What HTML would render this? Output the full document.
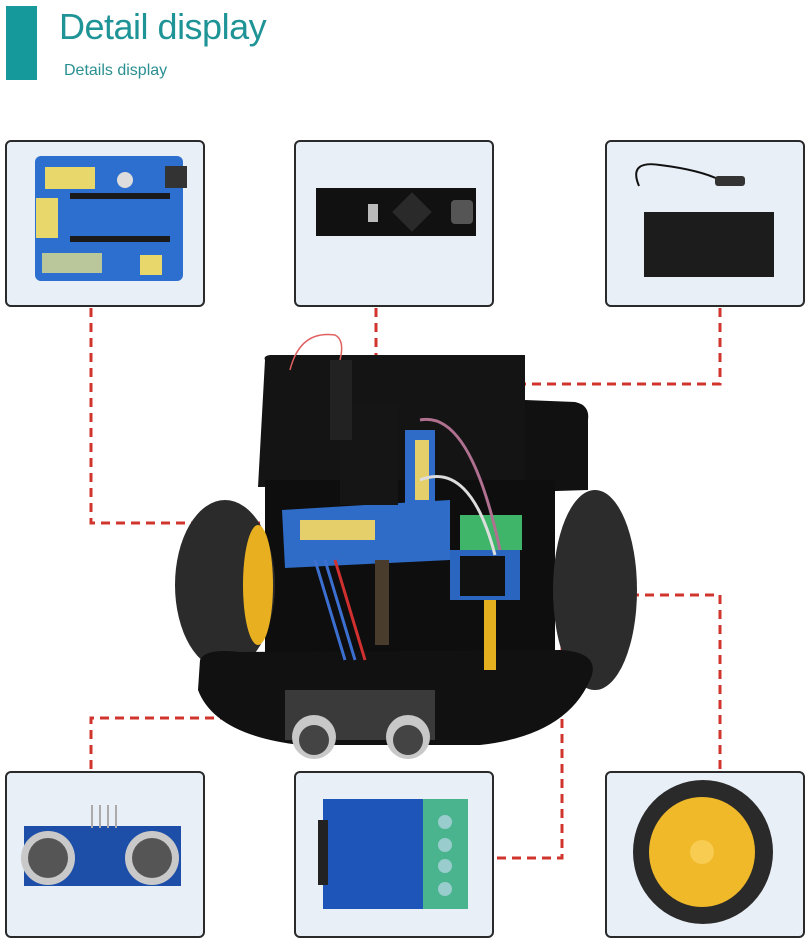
<!DOCTYPE html>
<html><head><meta charset="utf-8"><style>
html,body{margin:0;padding:0;background:#fff;}
body{width:808px;height:944px;position:relative;overflow:hidden;font-family:"Liberation Sans",sans-serif;}
.bar{position:absolute;left:6px;top:6px;width:31px;height:74px;background:#16999a;}
.t1{position:absolute;left:59px;top:6px;font-size:36px;color:#1f9496;letter-spacing:-0.5px;}
.t2{position:absolute;left:64px;top:62px;font-size:16px;color:#2a8f90;}
.box{position:absolute;width:196px;height:163px;border:2px solid #2a2a2a;border-radius:6px;background:#e9eff7;box-sizing:content-box;}
svg{position:absolute;left:0;top:0;}
</style></head><body>
<div class="bar"></div>
<div class="t1">Detail display</div>
<div class="t2">Details display</div>
<div class="box" style="left:5px;top:140px"></div>
<div class="box" style="left:294px;top:140px"></div>
<div class="box" style="left:605px;top:140px"></div>
<div class="box" style="left:5px;top:771px"></div>
<div class="box" style="left:294px;top:771px"></div>
<div class="box" style="left:605px;top:771px"></div>
<svg width="808" height="944" viewBox="0 0 808 944">
<g stroke="#d0342c" stroke-width="3" fill="none" stroke-dasharray="9 6">
<polyline points="91,308 91,523 285,523"/>
<polyline points="376,308 376,460"/>
<polyline points="720,308 720,384 525,384"/>
<polyline points="91,769 91,718 290,718"/>
<polyline points="497,858 562,858 562,584 525,584"/>
<polyline points="720,769 720,595 633,595"/>
</g>
<!-- top-left shield -->
<rect x="35" y="156" width="148" height="125" rx="6" fill="#2d6fcf"/>
<rect x="45" y="167" width="50" height="22" fill="#e8d76a"/>
<rect x="36" y="198" width="22" height="40" fill="#e8d76a"/>
<rect x="70" y="193" width="100" height="6" fill="#1a1a1a"/>
<rect x="70" y="236" width="100" height="6" fill="#1a1a1a"/>
<rect x="165" y="166" width="22" height="22" fill="#333"/>
<circle cx="125" cy="180" r="8" fill="#ddd"/>
<rect x="42" y="253" width="60" height="20" fill="#b9c79b"/>
<rect x="140" y="255" width="22" height="20" fill="#e8d76a"/>
<!-- nano -->
<rect x="316" y="188" width="160" height="48" fill="#111"/>
<rect x="451" y="200" width="22" height="24" rx="4" fill="#555"/>
<rect x="398" y="198" width="28" height="28" fill="#2a2a2a" transform="rotate(45 412 212)"/>
<rect x="368" y="204" width="10" height="18" fill="#bbb"/>
<!-- battery box -->
<path d="M639 186 Q628 160 660 165 Q700 170 720 180" stroke="#111" stroke-width="2" fill="none"/>
<rect x="715" y="176" width="30" height="10" rx="3" fill="#333"/>
<rect x="644" y="212" width="130" height="65" fill="#1c1c1c"/>
<!-- ultrasonic -->
<rect x="24" y="826" width="157" height="60" fill="#1d4fa8"/>
<line x1="92" y1="805" x2="92" y2="828" stroke="#aaa" stroke-width="2"/>
<line x1="100" y1="805" x2="100" y2="828" stroke="#aaa" stroke-width="2"/>
<line x1="108" y1="805" x2="108" y2="828" stroke="#aaa" stroke-width="2"/>
<line x1="116" y1="805" x2="116" y2="828" stroke="#aaa" stroke-width="2"/>
<circle cx="48" cy="858" r="27" fill="#c9c9c9"/><circle cx="48" cy="858" r="20" fill="#555"/>
<circle cx="152" cy="858" r="27" fill="#c9c9c9"/><circle cx="152" cy="858" r="20" fill="#555"/>
<!-- motor driver -->
<rect x="323" y="799" width="100" height="110" fill="#1e55b8"/>
<rect x="423" y="799" width="45" height="110" fill="#49b48e"/>
<circle cx="445" cy="822" r="7" fill="#9cc"/><circle cx="445" cy="845" r="7" fill="#9cc"/>
<circle cx="445" cy="866" r="7" fill="#9cc"/><circle cx="445" cy="889" r="7" fill="#9cc"/>
<rect x="318" y="820" width="10" height="65" fill="#222"/>
<!-- wheel -->
<ellipse cx="703" cy="852" rx="70" ry="72" fill="#2a2a2a"/>
<ellipse cx="702" cy="852" rx="53" ry="55" fill="#f0b92a"/>
<circle cx="702" cy="852" r="12" fill="#f7cc50"/>
<!-- car -->
<path d="M265 360 Q263 356 270 355 L525 355 L525 485 L258 487 Z" fill="#141414"/>
<path d="M525 400 L575 402 Q590 405 588 420 L588 490 L525 492 Z" fill="#111"/>
<rect x="265" y="480" width="290" height="200" fill="#0e0e0e"/>
<ellipse cx="225" cy="585" rx="50" ry="85" fill="#2b2b2b"/>
<ellipse cx="258" cy="585" rx="15" ry="60" fill="#e8b020"/>
<ellipse cx="595" cy="590" rx="42" ry="100" fill="#2c2c2c"/>
<path d="M200 660 Q205 648 240 652 L560 650 Q598 652 592 675 Q570 735 480 745 L300 745 Q215 735 198 690 Z" fill="#111"/>
<rect x="285" y="690" width="150" height="50" fill="#3a3a3a"/>
<circle cx="314" cy="737" r="22" fill="#c8c8c8"/><circle cx="314" cy="740" r="15" fill="#444"/>
<circle cx="408" cy="737" r="22" fill="#c8c8c8"/><circle cx="408" cy="740" r="15" fill="#444"/>
<path d="M282 510 L450 500 L450 560 L285 568 Z" fill="#2f6cc8"/>
<rect x="300" y="520" width="75" height="20" fill="#e5cf6a"/>
<rect x="405" y="430" width="30" height="110" fill="#2f6cc8"/>
<rect x="415" y="440" width="14" height="60" fill="#e5cf6a"/>
<rect x="340" y="405" width="58" height="100" fill="#151515"/>
<rect x="460" y="515" width="62" height="35" fill="#3fb56a"/>
<rect x="450" y="550" width="70" height="50" fill="#2a66c0"/>
<rect x="460" y="556" width="45" height="40" fill="#111"/>
<rect x="330" y="360" width="22" height="80" fill="#222"/>
<path d="M290 370 Q300 330 335 335 Q345 340 340 360" stroke="#e06060" stroke-width="1.5" fill="none"/>
<path d="M315 560 L345 660 M325 560 L355 660" stroke="#3b6fd0" stroke-width="3"/>
<path d="M335 560 L365 660" stroke="#d03030" stroke-width="3"/>
<path d="M420 480 Q470 460 495 555" stroke="#ddd" stroke-width="3" fill="none"/>
<path d="M420 420 Q470 410 500 550" stroke="#b07090" stroke-width="3" fill="none"/>
<rect x="375" y="560" width="14" height="85" fill="#4a3c2c"/>
<rect x="484" y="600" width="12" height="70" fill="#e5b020"/>
</svg>
</body></html>
